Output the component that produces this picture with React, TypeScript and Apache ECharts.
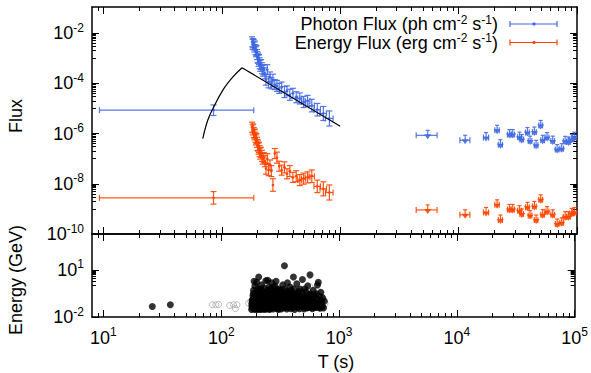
import React, { useEffect, useRef } from 'react';
import * as echarts from 'echarts';

const FONT = '"Liberation Sans", Arial, Helvetica, sans-serif';
const BLUE = '#4169e1';
const ORANGE = '#ff4500';

// ---- axis ranges / ticks (exponents of 10) ----
const X_MIN = Math.log10(8);
const X_MAX = 5;
const FLUX_MIN = -10;
const FLUX_MAX = -0.96;
const EN_MIN = -2;
const EN_MAX = 3.28;
const xMajorExp = [1, 2, 3, 4, 5];
const fluxMajorExp = [-10, -8, -6, -4, -2];
const energyMajorExp = [-2, 1];

// ---- light curve (LAT bins) ----
const lcTimes = [180, 182, 184, 186, 188, 190, 192, 194, 196, 198, 200, 202, 204, 206, 208, 211, 214, 218, 222, 226, 231, 236, 242, 248, 255, 262, 270, 280, 292, 305, 320, 338, 355, 375, 398, 425, 455, 490, 530, 575, 640, 720, 810];
const lcTimeErr = [1, 1, 1, 1, 1, 1, 1, 1, 1, 1, 1, 1, 1, 1, 1, 1.5, 1.5, 2, 2, 2, 2.5, 2.5, 3, 3, 3.5, 3.5, 4, 5, 6, 6, 8, 9, 9, 10, 12, 14, 18, 20, 25, 30, 40, 45, 60];
const photonFlux = [4.5e-3, 3.6e-3, 4.0e-3, 3.5e-3, 2.8e-3, 3.2e-3, 2.2e-3, 1.8e-3, 2.0e-3, 1.4e-3, 1.1e-3, 1.0e-3, 7.9e-4, 8.9e-4, 6.3e-4, 5.0e-4, 5.6e-4, 4.0e-4, 3.2e-4, 3.5e-4, 2.5e-4, 1.4e-4, 3.5e-4, 1.1e-4, 1.8e-4, 1.0e-4, 1.3e-4, 8.9e-5, 7.9e-5, 6.3e-5, 7.1e-5, 4.5e-5, 5.0e-5, 3.5e-5, 4.0e-5, 2.8e-5, 2.5e-5, 1.8e-5, 2.0e-5, 1.3e-5, 8.9e-6, 6.3e-6, 4.0e-6];
const energyFlux = [1.8e-6, 1.4e-6, 1.6e-6, 1.1e-6, 8.9e-7, 1.0e-6, 7.1e-7, 5.6e-7, 6.3e-7, 4.5e-7, 3.5e-7, 3.2e-7, 2.5e-7, 2.8e-7, 2.0e-7, 1.6e-7, 1.8e-7, 1.3e-7, 1.0e-7, 1.1e-7, 7.9e-8, 4.0e-8, 1.0e-7, 3.5e-8, 5.6e-8, 3.2e-8, 8.9e-9, 1.6e-7, 1.1e-7, 5.0e-8, 3.5e-8, 4.5e-8, 2.5e-8, 3.2e-8, 1.8e-8, 2.0e-8, 1.4e-8, 1.6e-8, 1.8e-8, 2.0e-8, 7.9e-9, 6.3e-9, 4.5e-9];
const lcErrDex = [0.2, 0.2, 0.18, 0.2, 0.2, 0.18, 0.2, 0.2, 0.2, 0.2, 0.22, 0.2, 0.22, 0.2, 0.22, 0.22, 0.2, 0.22, 0.22, 0.2, 0.22, 0.22, 0.2, 0.22, 0.2, 0.22, 0.25, 0.2, 0.22, 0.2, 0.2, 0.22, 0.2, 0.22, 0.2, 0.22, 0.22, 0.22, 0.22, 0.25, 0.25, 0.28, 0.3];

// ---- early wide bin ----
const earlyTime = 85;
const earlyTimeLo = 9.25;
const earlyTimeHi = 186;
const earlyPhoton = 8.5e-6;
const earlyPhotonErrDex = 0.21;
const earlyEnergy = 2.75e-9;
const earlyEnergyErrDex = 0.25;

// ---- late upper limits ----
const lateTimes = [5480, 11350, 17060, 21130, 22540, 26850, 28640, 32660, 34140, 38110, 40140, 43670, 45150, 49360, 51300, 55860, 62370, 67950, 74300, 79400, 84700, 90200, 95100];
const lateTimeErr = [1100, 1100, 850, 900, 900, 1000, 1000, 1200, 1200, 1400, 1400, 1600, 1600, 1800, 1800, 2000, 2200, 2400, 2600, 2800, 3000, 3200, 3400];
const latePhotonUL = [8.5e-7, 5.4e-7, 6.9e-7, 1.35e-6, 3.6e-7, 9.1e-7, 9.1e-7, 7.2e-7, 5.8e-7, 1.1e-6, 5.0e-7, 1.15e-6, 3.4e-7, 2.1e-6, 5.4e-7, 6.9e-7, 5.0e-7, 2.3e-7, 2.5e-7, 4.9e-7, 4.6e-7, 5.8e-7, 7.2e-7];
const lateEnergyUL = [9.1e-10, 5.8e-10, 7.2e-10, 1.45e-9, 3.6e-10, 9.5e-10, 9.5e-10, 8.5e-10, 6.3e-10, 1.15e-9, 5.4e-10, 1.25e-9, 3.6e-10, 2.3e-9, 5.9e-10, 7.8e-10, 5.8e-10, 2.5e-10, 2.8e-10, 4.9e-10, 4.9e-10, 6.6e-10, 7.2e-10];

// ---- model curve ----
const modelRiseTimes = [69, 76, 85, 102, 124, 148];
const modelRiseFlux = [6.3e-7, 3.4e-6, 1.1e-5, 5.4e-5, 1.8e-4, 4.2e-4];
const modelDecayTimes = [148, 1000];
const modelDecayFlux = [4.2e-4, 1.96e-6];

// ---- photon events (T [s], E [GeV]) ----
const eventsBlack: [number, number][] = [
  [26, 0.047], [37, 0.06],
  [181, 0.03], [182, 0.05], [183, 0.11], [184, 0.038], [185, 0.075], [186, 0.22], [187, 0.044], [188, 0.5], [189, 0.1], [190, 0.032], [190, 1.9], [191, 0.16], [192, 0.055], [193, 0.95], [194, 0.088], [195, 0.03], [196, 0.32], [197, 0.065], [198, 0.14], [199, 0.036], [200, 1.6], [201, 0.11], [202, 0.046], [203, 0.26], [204, 0.075], [205, 0.03], [206, 0.18], [207, 0.06], [208, 3.5], [209, 0.04], [210, 0.42], [211, 0.095], [212, 0.034], [213, 0.13], [214, 0.6], [215, 0.055], [216, 0.03], [217, 0.2], [218, 0.07], [219, 0.042], [220, 1.1], [222, 0.1], [223, 0.032], [224, 0.3], [226, 0.058], [227, 0.15], [228, 0.038], [230, 0.7], [231, 0.08], [233, 0.03], [234, 0.22], [236, 0.046], [237, 0.12], [239, 2.0], [240, 0.034], [242, 0.068], [243, 0.38], [245, 0.105], [246, 0.032], [248, 2.2], [249, 0.17], [251, 0.05], [253, 0.04], [254, 0.8], [256, 0.085], [258, 0.03], [260, 0.26], [262, 0.062], [264, 0.14], [266, 0.036], [268, 1.5], [270, 0.11], [272, 0.044], [274, 0.42], [276, 0.032], [279, 0.075], [281, 0.2], [284, 0.04], [286, 0.95], [289, 0.055], [292, 1.9], [294, 0.12], [297, 0.034], [300, 0.32], [303, 0.07], [306, 0.03], [309, 0.16], [312, 0.6], [315, 0.046], [318, 0.1], [322, 0.032], [325, 0.24], [329, 0.062], [333, 1.1], [336, 0.038], [340, 0.13], [344, 18], [348, 0.05], [352, 0.42], [356, 0.088], [360, 0.032], [365, 1.5], [370, 0.18], [375, 0.042], [380, 0.075], [385, 0.8], [390, 0.034], [395, 0.14], [400, 0.32], [405, 0.055], [410, 3.5], [415, 0.11], [420, 0.03], [426, 0.22], [432, 0.07], [438, 1.3], [444, 0.04], [450, 0.12], [456, 0.42], [462, 0.034], [468, 0.088], [475, 0.2], [482, 0.046], [489, 2.4], [496, 0.1], [503, 0.032], [510, 0.6], [518, 0.062], [526, 0.16], [534, 0.038], [542, 0.95], [550, 0.075], [558, 0.26], [567, 4.8], [576, 0.05], [585, 0.14], [594, 0.034], [604, 0.5], [614, 0.1], [624, 0.04], [634, 0.22], [645, 0.075], [656, 1.1], [667, 1.6], [678, 0.12], [690, 0.036], [700, 0.38], [712, 0.062], [725, 0.17], [738, 0.038], [750, 0.1],
  [182, 0.07], [185, 0.13], [187, 0.3], [189, 0.058], [191, 0.042], [193, 0.2], [195, 0.09], [197, 0.38], [199, 0.14], [201, 0.06], [203, 0.045], [205, 0.6], [207, 0.12], [209, 0.26], [211, 0.05], [213, 0.32], [215, 0.085], [217, 0.04], [219, 0.16], [221, 0.5], [223, 0.068], [225, 0.2], [227, 0.04], [229, 0.11], [232, 0.36], [235, 0.07], [238, 0.16], [241, 0.044], [244, 0.24], [247, 0.085], [250, 0.5], [252, 0.13], [255, 0.036], [257, 0.3], [259, 0.07], [261, 0.6], [263, 0.04], [265, 0.22], [267, 0.09], [269, 0.05], [271, 0.3], [273, 0.14], [275, 0.065], [278, 0.8], [280, 0.045], [283, 0.13], [285, 0.3], [288, 0.07], [290, 0.2], [295, 0.5], [298, 0.09], [302, 0.2], [305, 0.5], [308, 0.06], [311, 0.11], [314, 0.3], [317, 0.07], [320, 0.5], [323, 0.14], [327, 0.04], [331, 0.3], [335, 0.085], [338, 0.2], [342, 0.05], [346, 0.6], [350, 0.12], [354, 0.04], [358, 0.24], [362, 0.07], [367, 0.4], [372, 0.09], [378, 0.3], [383, 0.05], [388, 0.18], [393, 0.5], [398, 0.07], [403, 0.2], [408, 0.04], [413, 0.6], [418, 0.13], [423, 0.3], [429, 0.05], [435, 0.16], [441, 0.08], [447, 0.3], [453, 0.05], [459, 0.2], [465, 0.6], [471, 0.05], [478, 0.13], [485, 0.06], [492, 0.3], [499, 0.05], [506, 0.18], [514, 0.04], [522, 0.4], [530, 0.09], [538, 0.05], [546, 0.2], [554, 0.04], [562, 0.12], [571, 0.3], [580, 0.04], [590, 0.09], [600, 0.05], [610, 0.2], [620, 0.08], [630, 0.04], [640, 0.3], [650, 0.05], [662, 0.08], [673, 0.04], [685, 0.2], [696, 0.06], [708, 0.1], [720, 0.045],
];
const eventsGray: [number, number][] = [
  [84, 0.06], [90, 0.06], [95, 0.062], [118, 0.054], [127, 0.06], [132, 0.034], [136, 0.06], [171, 0.077],
  [178, 0.098], [200, 0.05], [215, 0.24], [240, 0.14], [270, 0.05], [300, 0.1], [350, 0.04], [420, 0.2], [460, 0.06], [482, 0.42], [520, 0.14], [560, 0.06], [567, 0.87], [600, 0.3], [620, 0.1], [650, 0.5], [690, 0.26], [711, 0.2], [731, 0.046], [740, 0.13], [760, 0.07],
];

// ---- helpers ----
const lg = Math.log10;

function minorTicks(majors: number[], lo: number, hi: number): number[] {
  const out: number[] = [];
  majors.forEach((m) => {
    for (let k = 1; k <= 9; k++) {
      const v = m - 1 + lg(k);
      if (v > lo + 1e-3 && v < hi - 1e-3) out.push(v);
    }
  });
  return out;
}
const xMinor: number[] = [];
xMajorExp.concat([0]).forEach((n) => {
  for (let k = 2; k <= 9; k++) {
    const v = n + lg(k);
    if (v > X_MIN + 1e-3 && v < X_MAX - 1e-3) xMinor.push(v);
  }
});
const fluxMinor = minorTicks(fluxMajorExp, FLUX_MIN, FLUX_MAX);
const energyMinor = minorTicks(energyMajorExp, EN_MIN, EN_MAX);

const supLabel = (v: number) => `{b|10}{s|${Math.round(v)}}`;
const labelRich = {
  b: { fontSize: 18, lineHeight: 23, fontFamily: FONT, color: '#000' },
  s: { fontSize: 12, lineHeight: 12, verticalAlign: 'top', fontFamily: FONT, color: '#000' },
};

function mkAxis(gridIndex: number, position: string, min: number, max: number, ticks: number[], len: number, showLine: boolean, labels?: number[], margin?: number) {
  return {
    type: 'value',
    gridIndex,
    position,
    min,
    max,
    axisLine: showLine ? { show: true, onZero: false, lineStyle: { color: '#000', width: 1.5 } } : { show: false, onZero: false },
    axisTick: { show: true, inside: true, length: len, customValues: ticks, lineStyle: { color: '#000', width: 1 } },
    axisLabel: labels
      ? { show: true, customValues: labels, margin: margin ?? 8, formatter: supLabel, rich: labelRich }
      : { show: false },
    splitLine: { show: false },
    minorTick: { show: false },
  };
}

function buildLC(flux: number[]) {
  return lcTimes.map((t, i) => {
    const f = lg(flux[i]);
    return [lg(t), lg(t - lcTimeErr[i]), lg(t + lcTimeErr[i]), f, f - lcErrDex[i], f + lcErrDex[i]];
  });
}
const photonRows = buildLC(photonFlux).concat([[lg(earlyTime), lg(earlyTimeLo), lg(earlyTimeHi), lg(earlyPhoton), lg(earlyPhoton) - earlyPhotonErrDex, lg(earlyPhoton) + earlyPhotonErrDex]]);
const energyRows = buildLC(energyFlux).concat([[lg(earlyTime), lg(earlyTimeLo), lg(earlyTimeHi), lg(earlyEnergy), lg(earlyEnergy) - earlyEnergyErrDex, lg(earlyEnergy) + earlyEnergyErrDex]]);
const ulRows = (vals: number[]) => lateTimes.map((t, i) => [lg(t), lg(t - lateTimeErr[i]), lg(t + lateTimeErr[i]), lg(vals[i])]);

function ln(x1: number, y1: number, x2: number, y2: number, style: any) {
  return { type: 'line', shape: { x1, y1, x2, y2 }, style };
}

function errorBarRender(color: string) {
  return (_p: any, api: any) => {
    const x = api.value(0), y = api.value(3);
    const c = api.coord([x, y]);
    const xl = api.coord([api.value(1), y])[0];
    const xh = api.coord([api.value(2), y])[0];
    const yl = api.coord([x, api.value(4)])[1];
    const yh = api.coord([x, api.value(5)])[1];
    const st = { stroke: color, lineWidth: 1.2, opacity: 0.9 };
    const cap = 3;
    const children: any[] = [];
    children.push(ln(xl, c[1], xh, c[1], st));
    if (xh - xl > 4) {
      children.push(ln(xl, c[1] - cap, xl, c[1] + cap, st));
      children.push(ln(xh, c[1] - cap, xh, c[1] + cap, st));
    }
    children.push(ln(c[0], yl, c[0], yh, st));
    children.push(ln(c[0] - cap, yl, c[0] + cap, yl, st));
    children.push(ln(c[0] - cap, yh, c[0] + cap, yh, st));
    children.push({ type: 'circle', shape: { cx: c[0], cy: c[1], r: 1.3 }, style: { fill: color } });
    return { type: 'group', children };
  };
}

function ulRender(color: string) {
  return (_p: any, api: any) => {
    const y = api.value(3);
    const c = api.coord([api.value(0), y]);
    const xl = api.coord([api.value(1), y])[0];
    const xh = api.coord([api.value(2), y])[0];
    const st = { stroke: color, lineWidth: 1.2, opacity: 0.9 };
    return {
      type: 'group',
      children: [
        ln(xl, c[1], xh, c[1], st),
        ln(xl, c[1] - 3, xl, c[1] + 3, st),
        ln(xh, c[1] - 3, xh, c[1] + 3, st),
        ln(c[0], c[1] - 5, c[0], c[1], st),
        ln(c[0] - 2, c[1] - 5, c[0] + 2, c[1] - 5, st),
        { type: 'polygon', shape: { points: [[c[0] - 3.5, c[1] - 1], [c[0] + 3.5, c[1] - 1], [c[0], c[1] + 4]] }, style: { fill: color, opacity: 0.9 } },
      ],
    };
  };
}

const legendRich = {
  a: { fontSize: 18, lineHeight: 21, fontFamily: FONT, fill: '#000' },
  s: { fontSize: 12, lineHeight: 12, verticalAlign: 'top', fontFamily: FONT, fill: '#000' },
};

function legendSample(y: number, color: string) {
  const st = { stroke: color, lineWidth: 1.2 };
  return [
    { type: 'line', shape: { x1: 510, y1: y, x2: 557, y2: y }, style: st },
    { type: 'line', shape: { x1: 510, y1: y - 3, x2: 510, y2: y + 3 }, style: st },
    { type: 'line', shape: { x1: 557, y1: y - 3, x2: 557, y2: y + 3 }, style: st },
    { type: 'circle', shape: { cx: 534, cy: y, r: 1.6 }, style: { fill: color } },
  ];
}

const option: any = {
  animation: false,
  backgroundColor: '#fff',
  grid: [
    { left: 92, top: 7, width: 485, height: 227 },
    { left: 92, top: 234, width: 485, height: 83 },
  ],
  xAxis: [
    mkAxis(0, 'bottom', X_MIN, X_MAX, xMajorExp, 7, true),
    mkAxis(0, 'bottom', X_MIN, X_MAX, xMinor, 4, false),
    mkAxis(0, 'top', X_MIN, X_MAX, xMajorExp, 7, true),
    mkAxis(0, 'top', X_MIN, X_MAX, xMinor, 4, false),
    mkAxis(1, 'bottom', X_MIN, X_MAX, xMajorExp, 7, true, xMajorExp, 9),
    mkAxis(1, 'bottom', X_MIN, X_MAX, xMinor, 4, false),
    mkAxis(1, 'top', X_MIN, X_MAX, xMajorExp, 7, true),
    mkAxis(1, 'top', X_MIN, X_MAX, xMinor, 4, false),
  ],
  yAxis: [
    mkAxis(0, 'left', FLUX_MIN, FLUX_MAX, fluxMajorExp, 7, true, fluxMajorExp, 8),
    mkAxis(0, 'left', FLUX_MIN, FLUX_MAX, fluxMinor, 4, false),
    mkAxis(0, 'right', FLUX_MIN, FLUX_MAX, fluxMajorExp, 7, true),
    mkAxis(0, 'right', FLUX_MIN, FLUX_MAX, fluxMinor, 4, false),
    mkAxis(1, 'left', EN_MIN, EN_MAX, energyMajorExp, 7, true, energyMajorExp, 8),
    mkAxis(1, 'left', EN_MIN, EN_MAX, energyMinor, 4, false),
    mkAxis(1, 'right', EN_MIN, EN_MAX, energyMajorExp, 7, true),
    mkAxis(1, 'right', EN_MIN, EN_MAX, energyMinor, 4, false),
  ],
  series: [
    { type: 'custom', name: 'Photon Flux', xAxisIndex: 0, yAxisIndex: 0, data: photonRows, encode: { x: [0, 1, 2], y: [3, 4, 5] }, renderItem: errorBarRender(BLUE) },
    { type: 'custom', name: 'Energy Flux', xAxisIndex: 0, yAxisIndex: 0, data: energyRows, encode: { x: [0, 1, 2], y: [3, 4, 5] }, renderItem: errorBarRender(ORANGE) },
    { type: 'custom', name: 'Photon UL', xAxisIndex: 0, yAxisIndex: 0, data: ulRows(latePhotonUL), encode: { x: [0, 1, 2], y: [3] }, renderItem: ulRender(BLUE) },
    { type: 'custom', name: 'Energy UL', xAxisIndex: 0, yAxisIndex: 0, data: ulRows(lateEnergyUL), encode: { x: [0, 1, 2], y: [3] }, renderItem: ulRender(ORANGE) },
    { type: 'line', name: 'model rise', xAxisIndex: 0, yAxisIndex: 0, data: modelRiseTimes.map((t, i) => [lg(t), lg(modelRiseFlux[i])]), smooth: 0.4, symbol: 'none', lineStyle: { color: '#000', width: 1.2 } },
    { type: 'line', name: 'model decay', xAxisIndex: 0, yAxisIndex: 0, data: modelDecayTimes.map((t, i) => [lg(t), lg(modelDecayFlux[i])]), symbol: 'none', lineStyle: { color: '#000', width: 1.2 } },
    { type: 'scatter', name: 'events (other)', xAxisIndex: 4, yAxisIndex: 4, data: eventsGray.map(([t, e]) => [lg(t), lg(e)]), symbol: 'circle', symbolSize: 6, itemStyle: { color: 'rgba(255,255,255,0)', borderColor: '#a8a8a8', borderWidth: 1 } },
    { type: 'scatter', name: 'events', xAxisIndex: 4, yAxisIndex: 4, data: eventsBlack.map(([t, e]) => [lg(t), lg(e)]), symbol: 'circle', symbolSize: 7, itemStyle: { color: '#000' } },
  ],
  graphic: [
    { type: 'text', x: 498, y: 24, style: { text: '{a|Photon Flux (ph cm}{s|-2}{a| s}{s|-1}{a|)}', rich: legendRich, align: 'right', verticalAlign: 'middle' } },
    { type: 'text', x: 498, y: 42.5, style: { text: '{a|Energy Flux (erg cm}{s|-2}{a| s}{s|-1}{a|)}', rich: legendRich, align: 'right', verticalAlign: 'middle' } },
    ...legendSample(24, BLUE),
    ...legendSample(42.5, ORANGE),
    { type: 'text', x: 16, y: 116, rotation: Math.PI / 2, style: { text: 'Flux', fontSize: 18, fontFamily: FONT, fill: '#000', align: 'center', verticalAlign: 'middle' } },
    { type: 'text', x: 16, y: 280, rotation: Math.PI / 2, style: { text: 'Energy (GeV)', fontSize: 18, fontFamily: FONT, fill: '#000', align: 'center', verticalAlign: 'middle' } },
    { type: 'text', x: 336, y: 362, style: { text: 'T (s)', fontSize: 18, fontFamily: FONT, fill: '#000', align: 'center', verticalAlign: 'middle' } },
  ],
};

export default function App() {
  const ref = useRef<HTMLDivElement>(null);
  useEffect(() => {
    const chart = echarts.init(ref.current!, null, { renderer: 'svg' });
    chart.setOption(option);
    return () => chart.dispose();
  }, []);
  return <div ref={ref} style={{ position: 'fixed', left: 0, top: 0, width: 591, height: 373 }} />;
}
